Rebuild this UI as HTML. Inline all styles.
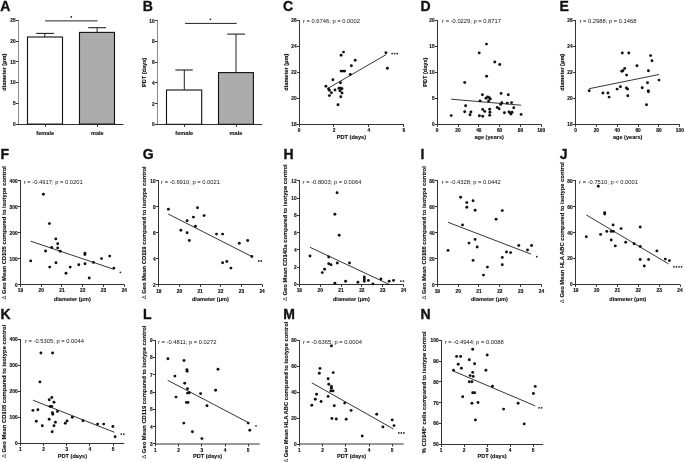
<!DOCTYPE html>
<html><head><meta charset="utf-8"><title>Figure</title>
<style>
html,body{margin:0;padding:0;background:#fff;}
svg{display:block;font-family:"Liberation Sans",sans-serif;will-change:transform;}
</style></head>
<body>
<svg width="685" height="462" viewBox="0 0 685 462">
<rect width="685" height="462" fill="#fff"/>
<g fill="#111">
<text x="0.30" y="10.90" font-size="14" font-weight="bold" text-anchor="start" stroke="#111" stroke-width="0.35">A</text>
<line x1="18.50" y1="20.00" x2="18.50" y2="125.00" stroke="#8a8a8a" stroke-width="1.0"/>
<line x1="16.00" y1="124.50" x2="18.50" y2="124.50" stroke="#333" stroke-width="1.0"/>
<text transform="translate(15.60,126.00) scale(1,1.15)" font-size="4.8" font-weight="bold" text-anchor="end" stroke="#111" stroke-width="0.15">0</text>
<line x1="16.00" y1="103.50" x2="18.50" y2="103.50" stroke="#333" stroke-width="1.0"/>
<text transform="translate(15.60,105.24) scale(1,1.15)" font-size="4.8" font-weight="bold" text-anchor="end" stroke="#111" stroke-width="0.15">5</text>
<line x1="16.00" y1="82.50" x2="18.50" y2="82.50" stroke="#333" stroke-width="1.0"/>
<text transform="translate(15.60,84.48) scale(1,1.15)" font-size="4.8" font-weight="bold" text-anchor="end" stroke="#111" stroke-width="0.15">10</text>
<line x1="16.00" y1="61.50" x2="18.50" y2="61.50" stroke="#333" stroke-width="1.0"/>
<text transform="translate(15.60,63.72) scale(1,1.15)" font-size="4.8" font-weight="bold" text-anchor="end" stroke="#111" stroke-width="0.15">15</text>
<line x1="16.00" y1="41.50" x2="18.50" y2="41.50" stroke="#333" stroke-width="1.0"/>
<text transform="translate(15.60,42.96) scale(1,1.15)" font-size="4.8" font-weight="bold" text-anchor="end" stroke="#111" stroke-width="0.15">20</text>
<line x1="16.00" y1="20.50" x2="18.50" y2="20.50" stroke="#333" stroke-width="1.0"/>
<text transform="translate(15.60,22.20) scale(1,1.15)" font-size="4.8" font-weight="bold" text-anchor="end" stroke="#111" stroke-width="0.15">25</text>
<text transform="translate(6.40,72.20) rotate(-90) scale(1.0,1.1)" font-size="5.6" font-weight="bold" text-anchor="middle" stroke="#111" stroke-width="0.12">diameter (μm)</text>
<line x1="18.00" y1="124.50" x2="123.50" y2="124.50" stroke="#333" stroke-width="1.0"/>
<line x1="45.50" y1="124.50" x2="45.50" y2="126.90" stroke="#333" stroke-width="1.0"/>
<line x1="97.50" y1="124.50" x2="97.50" y2="126.90" stroke="#333" stroke-width="1.0"/>
<text transform="translate(45.20,134.90) scale(1,1.1)" font-size="5.6" font-weight="bold" text-anchor="middle" stroke="#111" stroke-width="0.12">female</text>
<text transform="translate(97.30,134.90) scale(1,1.1)" font-size="5.6" font-weight="bold" text-anchor="middle" stroke="#111" stroke-width="0.12">male</text>
<rect x="27.5" y="37.0" width="35" height="87.1" fill="#fff" stroke="#111" stroke-width="1.1"/>
<rect x="79.5" y="32.4" width="35" height="91.7" fill="#acacac" stroke="#111" stroke-width="1.1"/>
<line x1="44.80" y1="33.40" x2="44.80" y2="37.00" stroke="#222" stroke-width="1"/>
<line x1="36.20" y1="33.40" x2="53.90" y2="33.40" stroke="#222" stroke-width="1.1"/>
<line x1="97.10" y1="27.70" x2="97.10" y2="32.40" stroke="#222" stroke-width="1"/>
<line x1="88.20" y1="27.70" x2="106.00" y2="27.70" stroke="#222" stroke-width="1.1"/>
<line x1="45.10" y1="20.90" x2="97.50" y2="20.90" stroke="#222" stroke-width="1"/>
<circle cx="71.30" cy="16.90" r="0.9" fill="#222"/>
<text x="142.70" y="10.90" font-size="14" font-weight="bold" text-anchor="start" stroke="#111" stroke-width="0.35">B</text>
<line x1="157.50" y1="20.00" x2="157.50" y2="125.00" stroke="#8a8a8a" stroke-width="1.0"/>
<line x1="155.00" y1="124.50" x2="157.50" y2="124.50" stroke="#333" stroke-width="1.0"/>
<text transform="translate(154.60,126.20) scale(1,1.15)" font-size="4.8" font-weight="bold" text-anchor="end" stroke="#111" stroke-width="0.15">0</text>
<line x1="155.00" y1="103.50" x2="157.50" y2="103.50" stroke="#333" stroke-width="1.0"/>
<text transform="translate(154.60,105.50) scale(1,1.15)" font-size="4.8" font-weight="bold" text-anchor="end" stroke="#111" stroke-width="0.15">2</text>
<line x1="155.00" y1="82.50" x2="157.50" y2="82.50" stroke="#333" stroke-width="1.0"/>
<text transform="translate(154.60,84.80) scale(1,1.15)" font-size="4.8" font-weight="bold" text-anchor="end" stroke="#111" stroke-width="0.15">4</text>
<line x1="155.00" y1="62.50" x2="157.50" y2="62.50" stroke="#333" stroke-width="1.0"/>
<text transform="translate(154.60,64.10) scale(1,1.15)" font-size="4.8" font-weight="bold" text-anchor="end" stroke="#111" stroke-width="0.15">6</text>
<line x1="155.00" y1="41.50" x2="157.50" y2="41.50" stroke="#333" stroke-width="1.0"/>
<text transform="translate(154.60,43.40) scale(1,1.15)" font-size="4.8" font-weight="bold" text-anchor="end" stroke="#111" stroke-width="0.15">8</text>
<line x1="155.00" y1="20.50" x2="157.50" y2="20.50" stroke="#333" stroke-width="1.0"/>
<text transform="translate(154.60,22.70) scale(1,1.15)" font-size="4.8" font-weight="bold" text-anchor="end" stroke="#111" stroke-width="0.15">10</text>
<text transform="translate(146.30,72.50) rotate(-90) scale(1.0,1.1)" font-size="5.6" font-weight="bold" text-anchor="middle" stroke="#111" stroke-width="0.12">PDT (days)</text>
<line x1="157.00" y1="124.50" x2="262.30" y2="124.50" stroke="#333" stroke-width="1.0"/>
<line x1="184.50" y1="124.50" x2="184.50" y2="126.90" stroke="#333" stroke-width="1.0"/>
<line x1="236.50" y1="124.50" x2="236.50" y2="126.90" stroke="#333" stroke-width="1.0"/>
<text transform="translate(184.20,135.00) scale(1,1.1)" font-size="5.6" font-weight="bold" text-anchor="middle" stroke="#111" stroke-width="0.12">female</text>
<text transform="translate(236.00,135.00) scale(1,1.1)" font-size="5.6" font-weight="bold" text-anchor="middle" stroke="#111" stroke-width="0.12">male</text>
<rect x="166.5" y="90.0" width="35.2" height="34.3" fill="#fff" stroke="#111" stroke-width="1.1"/>
<rect x="218.5" y="72.6" width="34.9" height="51.7" fill="#acacac" stroke="#111" stroke-width="1.1"/>
<line x1="184.30" y1="70.00" x2="184.30" y2="90.00" stroke="#222" stroke-width="1"/>
<line x1="175.30" y1="70.00" x2="192.80" y2="70.00" stroke="#222" stroke-width="1.1"/>
<line x1="236.00" y1="34.10" x2="236.00" y2="72.60" stroke="#222" stroke-width="1"/>
<line x1="227.20" y1="34.10" x2="245.00" y2="34.10" stroke="#222" stroke-width="1.1"/>
<line x1="185.00" y1="23.40" x2="236.70" y2="23.40" stroke="#222" stroke-width="1"/>
<circle cx="210.40" cy="19.30" r="0.9" fill="#222"/>
<text x="283.00" y="10.90" font-size="14" font-weight="bold" text-anchor="start" stroke="#111" stroke-width="0.35">C</text>
<line x1="299.50" y1="20.00" x2="299.50" y2="125.00" stroke="#333" stroke-width="1.0"/>
<line x1="297.00" y1="124.50" x2="299.50" y2="124.50" stroke="#333" stroke-width="1.0"/>
<text transform="translate(296.60,126.10) scale(1,1.15)" font-size="4.8" font-weight="bold" text-anchor="end" stroke="#111" stroke-width="0.15">18</text>
<line x1="297.00" y1="98.50" x2="299.50" y2="98.50" stroke="#333" stroke-width="1.0"/>
<text transform="translate(296.60,100.10) scale(1,1.15)" font-size="4.8" font-weight="bold" text-anchor="end" stroke="#111" stroke-width="0.15">20</text>
<line x1="297.00" y1="72.50" x2="299.50" y2="72.50" stroke="#333" stroke-width="1.0"/>
<text transform="translate(296.60,74.10) scale(1,1.15)" font-size="4.8" font-weight="bold" text-anchor="end" stroke="#111" stroke-width="0.15">22</text>
<line x1="297.00" y1="46.50" x2="299.50" y2="46.50" stroke="#333" stroke-width="1.0"/>
<text transform="translate(296.60,48.10) scale(1,1.15)" font-size="4.8" font-weight="bold" text-anchor="end" stroke="#111" stroke-width="0.15">24</text>
<line x1="297.00" y1="20.50" x2="299.50" y2="20.50" stroke="#333" stroke-width="1.0"/>
<text transform="translate(296.60,22.10) scale(1,1.15)" font-size="4.8" font-weight="bold" text-anchor="end" stroke="#111" stroke-width="0.15">26</text>
<text transform="translate(287.50,72.20) rotate(-90) scale(1.0,1.1)" font-size="5.6" font-weight="bold" text-anchor="middle" stroke="#111" stroke-width="0.12">diameter (μm)</text>
<line x1="299.00" y1="124.50" x2="403.90" y2="124.50" stroke="#333" stroke-width="1.0"/>
<line x1="299.50" y1="124.50" x2="299.50" y2="126.90" stroke="#333" stroke-width="1.0"/>
<text transform="translate(299.00,132.00) scale(1,1.15)" font-size="4.8" font-weight="bold" text-anchor="middle" stroke="#111" stroke-width="0.15">0</text>
<line x1="333.50" y1="124.50" x2="333.50" y2="126.90" stroke="#333" stroke-width="1.0"/>
<text transform="translate(333.97,132.00) scale(1,1.15)" font-size="4.8" font-weight="bold" text-anchor="middle" stroke="#111" stroke-width="0.15">2</text>
<line x1="368.50" y1="124.50" x2="368.50" y2="126.90" stroke="#333" stroke-width="1.0"/>
<text transform="translate(368.93,132.00) scale(1,1.15)" font-size="4.8" font-weight="bold" text-anchor="middle" stroke="#111" stroke-width="0.15">4</text>
<line x1="403.50" y1="124.50" x2="403.50" y2="126.90" stroke="#333" stroke-width="1.0"/>
<text transform="translate(403.90,132.00) scale(1,1.15)" font-size="4.8" font-weight="bold" text-anchor="middle" stroke="#111" stroke-width="0.15">6</text>
<text transform="translate(351.45,139.30) scale(1,1.1)" font-size="5.6" font-weight="bold" text-anchor="middle" stroke="#111" stroke-width="0.12">PDT (days)</text>
<text transform="translate(303.00,23.20) scale(1,1.04)" font-size="5.8" font-weight="normal" text-anchor="start">r = 0.6746; p = 0.0002</text>
<line x1="327.50" y1="88.60" x2="386.00" y2="54.70" stroke="#111" stroke-width="0.85"/>
<circle cx="343.50" cy="52.10" r="1.45"/>
<circle cx="341.10" cy="55.20" r="1.45"/>
<circle cx="355.20" cy="60.20" r="1.45"/>
<circle cx="351.40" cy="65.80" r="1.45"/>
<circle cx="341.10" cy="71.10" r="1.45"/>
<circle cx="343.00" cy="71.10" r="1.45"/>
<circle cx="344.60" cy="71.10" r="1.45"/>
<circle cx="350.30" cy="74.50" r="1.45"/>
<circle cx="332.90" cy="79.80" r="1.45"/>
<circle cx="340.50" cy="82.70" r="1.45"/>
<circle cx="325.90" cy="86.20" r="1.45"/>
<circle cx="328.60" cy="89.00" r="1.45"/>
<circle cx="329.40" cy="90.30" r="1.45"/>
<circle cx="335.00" cy="90.00" r="1.45"/>
<circle cx="339.00" cy="88.20" r="1.45"/>
<circle cx="340.80" cy="88.20" r="1.45"/>
<circle cx="342.00" cy="88.80" r="1.45"/>
<circle cx="340.00" cy="90.80" r="1.45"/>
<circle cx="331.40" cy="92.70" r="1.45"/>
<circle cx="342.00" cy="93.00" r="1.45"/>
<circle cx="329.40" cy="95.60" r="1.45"/>
<circle cx="340.80" cy="96.80" r="1.45"/>
<circle cx="338.00" cy="104.80" r="1.45"/>
<circle cx="385.90" cy="52.70" r="1.45"/>
<circle cx="387.40" cy="68.30" r="1.45"/>
<circle cx="392.10" cy="53.60" r="0.9" fill="#222"/>
<circle cx="394.65" cy="53.60" r="0.9" fill="#222"/>
<circle cx="397.20" cy="53.60" r="0.9" fill="#222"/>
<text x="420.40" y="10.90" font-size="14" font-weight="bold" text-anchor="start" stroke="#111" stroke-width="0.35">D</text>
<line x1="437.50" y1="20.00" x2="437.50" y2="125.00" stroke="#333" stroke-width="1.0"/>
<line x1="435.00" y1="124.50" x2="437.50" y2="124.50" stroke="#333" stroke-width="1.0"/>
<text transform="translate(434.60,125.90) scale(1,1.15)" font-size="4.8" font-weight="bold" text-anchor="end" stroke="#111" stroke-width="0.15">0</text>
<line x1="435.00" y1="98.50" x2="437.50" y2="98.50" stroke="#333" stroke-width="1.0"/>
<text transform="translate(434.60,99.98) scale(1,1.15)" font-size="4.8" font-weight="bold" text-anchor="end" stroke="#111" stroke-width="0.15">5</text>
<line x1="435.00" y1="72.50" x2="437.50" y2="72.50" stroke="#333" stroke-width="1.0"/>
<text transform="translate(434.60,74.05) scale(1,1.15)" font-size="4.8" font-weight="bold" text-anchor="end" stroke="#111" stroke-width="0.15">10</text>
<line x1="435.00" y1="46.50" x2="437.50" y2="46.50" stroke="#333" stroke-width="1.0"/>
<text transform="translate(434.60,48.12) scale(1,1.15)" font-size="4.8" font-weight="bold" text-anchor="end" stroke="#111" stroke-width="0.15">15</text>
<line x1="435.00" y1="20.50" x2="437.50" y2="20.50" stroke="#333" stroke-width="1.0"/>
<text transform="translate(434.60,22.20) scale(1,1.15)" font-size="4.8" font-weight="bold" text-anchor="end" stroke="#111" stroke-width="0.15">20</text>
<text transform="translate(426.50,72.15) rotate(-90) scale(1.0,1.1)" font-size="5.6" font-weight="bold" text-anchor="middle" stroke="#111" stroke-width="0.12">PDT (days)</text>
<line x1="437.00" y1="124.50" x2="541.20" y2="124.50" stroke="#333" stroke-width="1.0"/>
<line x1="437.50" y1="124.50" x2="437.50" y2="126.90" stroke="#333" stroke-width="1.0"/>
<text transform="translate(437.20,131.80) scale(1,1.15)" font-size="4.8" font-weight="bold" text-anchor="middle" stroke="#111" stroke-width="0.15">0</text>
<line x1="458.50" y1="124.50" x2="458.50" y2="126.90" stroke="#333" stroke-width="1.0"/>
<text transform="translate(458.00,131.80) scale(1,1.15)" font-size="4.8" font-weight="bold" text-anchor="middle" stroke="#111" stroke-width="0.15">20</text>
<line x1="478.50" y1="124.50" x2="478.50" y2="126.90" stroke="#333" stroke-width="1.0"/>
<text transform="translate(478.80,131.80) scale(1,1.15)" font-size="4.8" font-weight="bold" text-anchor="middle" stroke="#111" stroke-width="0.15">40</text>
<line x1="499.50" y1="124.50" x2="499.50" y2="126.90" stroke="#333" stroke-width="1.0"/>
<text transform="translate(499.60,131.80) scale(1,1.15)" font-size="4.8" font-weight="bold" text-anchor="middle" stroke="#111" stroke-width="0.15">60</text>
<line x1="520.50" y1="124.50" x2="520.50" y2="126.90" stroke="#333" stroke-width="1.0"/>
<text transform="translate(520.40,131.80) scale(1,1.15)" font-size="4.8" font-weight="bold" text-anchor="middle" stroke="#111" stroke-width="0.15">80</text>
<line x1="541.50" y1="124.50" x2="541.50" y2="126.90" stroke="#333" stroke-width="1.0"/>
<text transform="translate(541.20,131.80) scale(1,1.15)" font-size="4.8" font-weight="bold" text-anchor="middle" stroke="#111" stroke-width="0.15">100</text>
<text transform="translate(489.20,139.30) scale(1,1.1)" font-size="5.6" font-weight="bold" text-anchor="middle" stroke="#111" stroke-width="0.12">age (years)</text>
<text transform="translate(442.10,23.30) scale(1,1.04)" font-size="5.8" font-weight="normal" text-anchor="start">r = -0.0229; p = 0.8717</text>
<line x1="451.20" y1="99.20" x2="521.10" y2="105.20" stroke="#111" stroke-width="0.85"/>
<circle cx="486.50" cy="44.10" r="1.45"/>
<circle cx="479.20" cy="52.90" r="1.45"/>
<circle cx="494.80" cy="62.00" r="1.45"/>
<circle cx="499.70" cy="64.50" r="1.45"/>
<circle cx="486.60" cy="76.20" r="1.45"/>
<circle cx="464.70" cy="82.50" r="1.45"/>
<circle cx="482.40" cy="94.70" r="1.45"/>
<circle cx="501.10" cy="93.40" r="1.45"/>
<circle cx="508.30" cy="94.70" r="1.45"/>
<circle cx="486.00" cy="98.20" r="1.45"/>
<circle cx="487.60" cy="96.90" r="1.45"/>
<circle cx="489.30" cy="97.60" r="1.45"/>
<circle cx="490.30" cy="98.90" r="1.45"/>
<circle cx="488.60" cy="100.90" r="1.45"/>
<circle cx="480.10" cy="100.90" r="1.45"/>
<circle cx="501.80" cy="102.80" r="1.45"/>
<circle cx="500.70" cy="104.40" r="1.45"/>
<circle cx="507.30" cy="103.10" r="1.45"/>
<circle cx="511.60" cy="102.60" r="1.45"/>
<circle cx="465.60" cy="105.70" r="1.45"/>
<circle cx="497.20" cy="107.40" r="1.45"/>
<circle cx="499.10" cy="108.80" r="1.45"/>
<circle cx="513.80" cy="107.80" r="1.45"/>
<circle cx="482.70" cy="109.40" r="1.45"/>
<circle cx="484.70" cy="111.40" r="1.45"/>
<circle cx="489.70" cy="109.20" r="1.45"/>
<circle cx="489.90" cy="112.30" r="1.45"/>
<circle cx="464.70" cy="111.80" r="1.45"/>
<circle cx="470.90" cy="112.00" r="1.45"/>
<circle cx="470.00" cy="114.70" r="1.45"/>
<circle cx="504.40" cy="112.70" r="1.45"/>
<circle cx="509.00" cy="112.00" r="1.45"/>
<circle cx="510.30" cy="113.10" r="1.45"/>
<circle cx="512.00" cy="112.30" r="1.45"/>
<circle cx="511.00" cy="114.00" r="1.45"/>
<circle cx="451.20" cy="115.60" r="1.45"/>
<circle cx="479.40" cy="115.70" r="1.45"/>
<circle cx="482.70" cy="116.20" r="1.45"/>
<circle cx="489.70" cy="115.30" r="1.45"/>
<circle cx="521.10" cy="114.40" r="1.45"/>
<text x="559.40" y="10.90" font-size="14" font-weight="bold" text-anchor="start" stroke="#111" stroke-width="0.35">E</text>
<line x1="575.50" y1="20.00" x2="575.50" y2="125.00" stroke="#333" stroke-width="1.0"/>
<line x1="573.00" y1="124.50" x2="575.50" y2="124.50" stroke="#333" stroke-width="1.0"/>
<text transform="translate(572.60,126.00) scale(1,1.15)" font-size="4.8" font-weight="bold" text-anchor="end" stroke="#111" stroke-width="0.15">18</text>
<line x1="573.00" y1="98.50" x2="575.50" y2="98.50" stroke="#333" stroke-width="1.0"/>
<text transform="translate(572.60,100.08) scale(1,1.15)" font-size="4.8" font-weight="bold" text-anchor="end" stroke="#111" stroke-width="0.15">20</text>
<line x1="573.00" y1="72.50" x2="575.50" y2="72.50" stroke="#333" stroke-width="1.0"/>
<text transform="translate(572.60,74.15) scale(1,1.15)" font-size="4.8" font-weight="bold" text-anchor="end" stroke="#111" stroke-width="0.15">22</text>
<line x1="573.00" y1="46.50" x2="575.50" y2="46.50" stroke="#333" stroke-width="1.0"/>
<text transform="translate(572.60,48.23) scale(1,1.15)" font-size="4.8" font-weight="bold" text-anchor="end" stroke="#111" stroke-width="0.15">24</text>
<line x1="573.00" y1="20.50" x2="575.50" y2="20.50" stroke="#333" stroke-width="1.0"/>
<text transform="translate(572.60,22.30) scale(1,1.15)" font-size="4.8" font-weight="bold" text-anchor="end" stroke="#111" stroke-width="0.15">26</text>
<text transform="translate(563.70,72.25) rotate(-90) scale(1.0,1.1)" font-size="5.6" font-weight="bold" text-anchor="middle" stroke="#111" stroke-width="0.12">diameter (μm)</text>
<line x1="575.00" y1="124.50" x2="679.80" y2="124.50" stroke="#333" stroke-width="1.0"/>
<line x1="575.50" y1="124.50" x2="575.50" y2="126.90" stroke="#333" stroke-width="1.0"/>
<text transform="translate(575.50,131.90) scale(1,1.15)" font-size="4.8" font-weight="bold" text-anchor="middle" stroke="#111" stroke-width="0.15">0</text>
<line x1="596.50" y1="124.50" x2="596.50" y2="126.90" stroke="#333" stroke-width="1.0"/>
<text transform="translate(596.36,131.90) scale(1,1.15)" font-size="4.8" font-weight="bold" text-anchor="middle" stroke="#111" stroke-width="0.15">20</text>
<line x1="617.50" y1="124.50" x2="617.50" y2="126.90" stroke="#333" stroke-width="1.0"/>
<text transform="translate(617.22,131.90) scale(1,1.15)" font-size="4.8" font-weight="bold" text-anchor="middle" stroke="#111" stroke-width="0.15">40</text>
<line x1="638.50" y1="124.50" x2="638.50" y2="126.90" stroke="#333" stroke-width="1.0"/>
<text transform="translate(638.08,131.90) scale(1,1.15)" font-size="4.8" font-weight="bold" text-anchor="middle" stroke="#111" stroke-width="0.15">60</text>
<line x1="658.50" y1="124.50" x2="658.50" y2="126.90" stroke="#333" stroke-width="1.0"/>
<text transform="translate(658.94,131.90) scale(1,1.15)" font-size="4.8" font-weight="bold" text-anchor="middle" stroke="#111" stroke-width="0.15">80</text>
<line x1="679.50" y1="124.50" x2="679.50" y2="126.90" stroke="#333" stroke-width="1.0"/>
<text transform="translate(679.80,131.90) scale(1,1.15)" font-size="4.8" font-weight="bold" text-anchor="middle" stroke="#111" stroke-width="0.15">100</text>
<text transform="translate(627.65,139.30) scale(1,1.1)" font-size="5.6" font-weight="bold" text-anchor="middle" stroke="#111" stroke-width="0.12">age (years)</text>
<text transform="translate(579.50,23.40) scale(1,1.04)" font-size="5.8" font-weight="normal" text-anchor="start">r = 0.2988; p = 0.1468</text>
<line x1="589.20" y1="88.70" x2="659.00" y2="74.50" stroke="#111" stroke-width="0.85"/>
<circle cx="622.30" cy="53.00" r="1.45"/>
<circle cx="628.80" cy="53.00" r="1.45"/>
<circle cx="650.60" cy="55.60" r="1.45"/>
<circle cx="652.00" cy="60.70" r="1.45"/>
<circle cx="637.00" cy="65.70" r="1.45"/>
<circle cx="624.70" cy="68.40" r="1.45"/>
<circle cx="621.80" cy="71.20" r="1.45"/>
<circle cx="622.90" cy="70.80" r="1.45"/>
<circle cx="648.40" cy="70.80" r="1.45"/>
<circle cx="626.60" cy="75.10" r="1.45"/>
<circle cx="659.00" cy="80.10" r="1.45"/>
<circle cx="647.50" cy="82.70" r="1.45"/>
<circle cx="620.40" cy="86.80" r="1.45"/>
<circle cx="626.40" cy="87.90" r="1.45"/>
<circle cx="627.60" cy="89.10" r="1.45"/>
<circle cx="642.20" cy="87.70" r="1.45"/>
<circle cx="617.10" cy="89.10" r="1.45"/>
<circle cx="648.30" cy="90.70" r="1.45"/>
<circle cx="648.40" cy="91.80" r="1.45"/>
<circle cx="589.20" cy="90.70" r="1.45"/>
<circle cx="602.90" cy="93.00" r="1.45"/>
<circle cx="607.90" cy="93.00" r="1.45"/>
<circle cx="609.10" cy="97.10" r="1.45"/>
<circle cx="627.80" cy="95.70" r="1.45"/>
<circle cx="646.50" cy="104.70" r="1.45"/>
<text x="0.40" y="158.90" font-size="14" font-weight="bold" text-anchor="start" stroke="#111" stroke-width="0.35">F</text>
<line x1="20.50" y1="180.00" x2="20.50" y2="285.00" stroke="#333" stroke-width="1.0"/>
<line x1="18.00" y1="284.50" x2="20.50" y2="284.50" stroke="#333" stroke-width="1.0"/>
<text transform="translate(17.60,286.50) scale(1,1.15)" font-size="4.8" font-weight="bold" text-anchor="end" stroke="#111" stroke-width="0.15">0</text>
<line x1="18.00" y1="258.50" x2="20.50" y2="258.50" stroke="#333" stroke-width="1.0"/>
<text transform="translate(17.60,260.57) scale(1,1.15)" font-size="4.8" font-weight="bold" text-anchor="end" stroke="#111" stroke-width="0.15">100</text>
<line x1="18.00" y1="232.50" x2="20.50" y2="232.50" stroke="#333" stroke-width="1.0"/>
<text transform="translate(17.60,234.65) scale(1,1.15)" font-size="4.8" font-weight="bold" text-anchor="end" stroke="#111" stroke-width="0.15">200</text>
<line x1="18.00" y1="206.50" x2="20.50" y2="206.50" stroke="#333" stroke-width="1.0"/>
<text transform="translate(17.60,208.73) scale(1,1.15)" font-size="4.8" font-weight="bold" text-anchor="end" stroke="#111" stroke-width="0.15">300</text>
<line x1="18.00" y1="180.50" x2="20.50" y2="180.50" stroke="#333" stroke-width="1.0"/>
<text transform="translate(17.60,182.80) scale(1,1.15)" font-size="4.8" font-weight="bold" text-anchor="end" stroke="#111" stroke-width="0.15">400</text>
<text transform="translate(6.40,232.75) rotate(-90) scale(1.043,1.1)" font-size="5.6" font-weight="bold" text-anchor="middle" stroke="#111" stroke-width="0.12"><tspan font-weight="normal" stroke-width="0">Δ</tspan> Geo Mean CD105 compared to isotype control</text>
<line x1="20.00" y1="284.50" x2="124.30" y2="284.50" stroke="#333" stroke-width="1.0"/>
<line x1="20.50" y1="284.50" x2="20.50" y2="286.90" stroke="#333" stroke-width="1.0"/>
<text transform="translate(20.40,292.40) scale(1,1.15)" font-size="4.8" font-weight="bold" text-anchor="middle" stroke="#111" stroke-width="0.15">19</text>
<line x1="41.50" y1="284.50" x2="41.50" y2="286.90" stroke="#333" stroke-width="1.0"/>
<text transform="translate(41.18,292.40) scale(1,1.15)" font-size="4.8" font-weight="bold" text-anchor="middle" stroke="#111" stroke-width="0.15">20</text>
<line x1="61.50" y1="284.50" x2="61.50" y2="286.90" stroke="#333" stroke-width="1.0"/>
<text transform="translate(61.96,292.40) scale(1,1.15)" font-size="4.8" font-weight="bold" text-anchor="middle" stroke="#111" stroke-width="0.15">21</text>
<line x1="82.50" y1="284.50" x2="82.50" y2="286.90" stroke="#333" stroke-width="1.0"/>
<text transform="translate(82.74,292.40) scale(1,1.15)" font-size="4.8" font-weight="bold" text-anchor="middle" stroke="#111" stroke-width="0.15">22</text>
<line x1="103.50" y1="284.50" x2="103.50" y2="286.90" stroke="#333" stroke-width="1.0"/>
<text transform="translate(103.52,292.40) scale(1,1.15)" font-size="4.8" font-weight="bold" text-anchor="middle" stroke="#111" stroke-width="0.15">23</text>
<line x1="124.50" y1="284.50" x2="124.50" y2="286.90" stroke="#333" stroke-width="1.0"/>
<text transform="translate(124.30,292.40) scale(1,1.15)" font-size="4.8" font-weight="bold" text-anchor="middle" stroke="#111" stroke-width="0.15">24</text>
<text transform="translate(72.35,300.60) scale(1,1.1)" font-size="5.6" font-weight="bold" text-anchor="middle" stroke="#111" stroke-width="0.12">diameter (μm)</text>
<text transform="translate(23.80,183.90) scale(1,1.04)" font-size="5.8" font-weight="normal" text-anchor="start">r = -0.4917; p = 0.0201</text>
<line x1="30.70" y1="241.20" x2="113.90" y2="269.30" stroke="#111" stroke-width="0.85"/>
<circle cx="43.40" cy="194.20" r="1.45"/>
<circle cx="49.40" cy="223.60" r="1.45"/>
<circle cx="55.80" cy="238.90" r="1.45"/>
<circle cx="57.70" cy="243.70" r="1.45"/>
<circle cx="51.70" cy="247.50" r="1.45"/>
<circle cx="57.70" cy="247.90" r="1.45"/>
<circle cx="45.60" cy="251.00" r="1.45"/>
<circle cx="60.20" cy="251.30" r="1.45"/>
<circle cx="84.90" cy="253.10" r="1.45"/>
<circle cx="84.90" cy="254.50" r="1.45"/>
<circle cx="30.70" cy="260.90" r="1.45"/>
<circle cx="49.70" cy="267.10" r="1.45"/>
<circle cx="56.00" cy="262.80" r="1.45"/>
<circle cx="66.00" cy="273.20" r="1.45"/>
<circle cx="70.20" cy="267.10" r="1.45"/>
<circle cx="78.80" cy="264.70" r="1.45"/>
<circle cx="85.00" cy="263.70" r="1.45"/>
<circle cx="89.20" cy="278.00" r="1.45"/>
<circle cx="93.40" cy="262.40" r="1.45"/>
<circle cx="101.50" cy="258.60" r="1.45"/>
<circle cx="109.70" cy="256.10" r="1.45"/>
<circle cx="113.90" cy="268.10" r="1.45"/>
<circle cx="120.40" cy="272.30" r="0.9" fill="#222"/>
<text x="142.80" y="158.90" font-size="14" font-weight="bold" text-anchor="start" stroke="#111" stroke-width="0.35">G</text>
<line x1="158.50" y1="180.00" x2="158.50" y2="285.00" stroke="#333" stroke-width="1.0"/>
<line x1="156.00" y1="284.50" x2="158.50" y2="284.50" stroke="#333" stroke-width="1.0"/>
<text transform="translate(155.60,286.60) scale(1,1.15)" font-size="4.8" font-weight="bold" text-anchor="end" stroke="#111" stroke-width="0.15">2</text>
<line x1="156.00" y1="258.50" x2="158.50" y2="258.50" stroke="#333" stroke-width="1.0"/>
<text transform="translate(155.60,260.65) scale(1,1.15)" font-size="4.8" font-weight="bold" text-anchor="end" stroke="#111" stroke-width="0.15">4</text>
<line x1="156.00" y1="232.50" x2="158.50" y2="232.50" stroke="#333" stroke-width="1.0"/>
<text transform="translate(155.60,234.70) scale(1,1.15)" font-size="4.8" font-weight="bold" text-anchor="end" stroke="#111" stroke-width="0.15">6</text>
<line x1="156.00" y1="206.50" x2="158.50" y2="206.50" stroke="#333" stroke-width="1.0"/>
<text transform="translate(155.60,208.75) scale(1,1.15)" font-size="4.8" font-weight="bold" text-anchor="end" stroke="#111" stroke-width="0.15">8</text>
<line x1="156.00" y1="180.50" x2="158.50" y2="180.50" stroke="#333" stroke-width="1.0"/>
<text transform="translate(155.60,182.80) scale(1,1.15)" font-size="4.8" font-weight="bold" text-anchor="end" stroke="#111" stroke-width="0.15">10</text>
<text transform="translate(146.30,232.80) rotate(-90) scale(1.043,1.1)" font-size="5.6" font-weight="bold" text-anchor="middle" stroke="#111" stroke-width="0.12"><tspan font-weight="normal" stroke-width="0">Δ</tspan> Geo Mean CD119 compared to isotype control</text>
<line x1="158.00" y1="284.50" x2="262.10" y2="284.50" stroke="#333" stroke-width="1.0"/>
<line x1="158.50" y1="284.50" x2="158.50" y2="286.90" stroke="#333" stroke-width="1.0"/>
<text transform="translate(158.80,292.50) scale(1,1.15)" font-size="4.8" font-weight="bold" text-anchor="middle" stroke="#111" stroke-width="0.15">19</text>
<line x1="179.50" y1="284.50" x2="179.50" y2="286.90" stroke="#333" stroke-width="1.0"/>
<text transform="translate(179.46,292.50) scale(1,1.15)" font-size="4.8" font-weight="bold" text-anchor="middle" stroke="#111" stroke-width="0.15">20</text>
<line x1="200.50" y1="284.50" x2="200.50" y2="286.90" stroke="#333" stroke-width="1.0"/>
<text transform="translate(200.12,292.50) scale(1,1.15)" font-size="4.8" font-weight="bold" text-anchor="middle" stroke="#111" stroke-width="0.15">21</text>
<line x1="220.50" y1="284.50" x2="220.50" y2="286.90" stroke="#333" stroke-width="1.0"/>
<text transform="translate(220.78,292.50) scale(1,1.15)" font-size="4.8" font-weight="bold" text-anchor="middle" stroke="#111" stroke-width="0.15">22</text>
<line x1="241.50" y1="284.50" x2="241.50" y2="286.90" stroke="#333" stroke-width="1.0"/>
<text transform="translate(241.44,292.50) scale(1,1.15)" font-size="4.8" font-weight="bold" text-anchor="middle" stroke="#111" stroke-width="0.15">23</text>
<line x1="262.50" y1="284.50" x2="262.50" y2="286.90" stroke="#333" stroke-width="1.0"/>
<text transform="translate(262.10,292.50) scale(1,1.15)" font-size="4.8" font-weight="bold" text-anchor="middle" stroke="#111" stroke-width="0.15">24</text>
<text transform="translate(210.40,300.60) scale(1,1.1)" font-size="5.6" font-weight="bold" text-anchor="middle" stroke="#111" stroke-width="0.12">diameter (μm)</text>
<text transform="translate(161.10,183.90) scale(1,1.04)" font-size="5.8" font-weight="normal" text-anchor="start">r = -0.6910; p = 0.0021</text>
<line x1="168.20" y1="214.00" x2="251.80" y2="256.50" stroke="#111" stroke-width="0.85"/>
<circle cx="168.40" cy="209.30" r="1.45"/>
<circle cx="197.50" cy="207.80" r="1.45"/>
<circle cx="204.10" cy="215.60" r="1.45"/>
<circle cx="193.40" cy="217.10" r="1.45"/>
<circle cx="187.10" cy="220.80" r="1.45"/>
<circle cx="195.50" cy="226.30" r="1.45"/>
<circle cx="180.90" cy="230.20" r="1.45"/>
<circle cx="187.10" cy="232.70" r="1.45"/>
<circle cx="189.30" cy="240.50" r="1.45"/>
<circle cx="216.50" cy="234.10" r="1.45"/>
<circle cx="222.60" cy="234.10" r="1.45"/>
<circle cx="239.30" cy="243.20" r="1.45"/>
<circle cx="247.70" cy="240.50" r="1.45"/>
<circle cx="251.80" cy="256.50" r="1.45"/>
<circle cx="222.60" cy="262.70" r="1.45"/>
<circle cx="226.80" cy="261.50" r="1.45"/>
<circle cx="230.90" cy="268.10" r="1.45"/>
<circle cx="258.80" cy="261.00" r="0.9" fill="#222"/>
<circle cx="261.35" cy="261.00" r="0.9" fill="#222"/>
<text x="283.50" y="158.90" font-size="14" font-weight="bold" text-anchor="start" stroke="#111" stroke-width="0.35">H</text>
<line x1="299.50" y1="180.00" x2="299.50" y2="285.00" stroke="#333" stroke-width="1.0"/>
<line x1="297.00" y1="284.50" x2="299.50" y2="284.50" stroke="#333" stroke-width="1.0"/>
<text transform="translate(296.60,286.30) scale(1,1.15)" font-size="4.8" font-weight="bold" text-anchor="end" stroke="#111" stroke-width="0.15">0</text>
<line x1="297.00" y1="267.50" x2="299.50" y2="267.50" stroke="#333" stroke-width="1.0"/>
<text transform="translate(296.60,269.05) scale(1,1.15)" font-size="4.8" font-weight="bold" text-anchor="end" stroke="#111" stroke-width="0.15">2</text>
<line x1="297.00" y1="249.50" x2="299.50" y2="249.50" stroke="#333" stroke-width="1.0"/>
<text transform="translate(296.60,251.80) scale(1,1.15)" font-size="4.8" font-weight="bold" text-anchor="end" stroke="#111" stroke-width="0.15">4</text>
<line x1="297.00" y1="232.50" x2="299.50" y2="232.50" stroke="#333" stroke-width="1.0"/>
<text transform="translate(296.60,234.55) scale(1,1.15)" font-size="4.8" font-weight="bold" text-anchor="end" stroke="#111" stroke-width="0.15">6</text>
<line x1="297.00" y1="215.50" x2="299.50" y2="215.50" stroke="#333" stroke-width="1.0"/>
<text transform="translate(296.60,217.30) scale(1,1.15)" font-size="4.8" font-weight="bold" text-anchor="end" stroke="#111" stroke-width="0.15">8</text>
<line x1="297.00" y1="198.50" x2="299.50" y2="198.50" stroke="#333" stroke-width="1.0"/>
<text transform="translate(296.60,200.05) scale(1,1.15)" font-size="4.8" font-weight="bold" text-anchor="end" stroke="#111" stroke-width="0.15">10</text>
<line x1="297.00" y1="180.50" x2="299.50" y2="180.50" stroke="#333" stroke-width="1.0"/>
<text transform="translate(296.60,182.80) scale(1,1.15)" font-size="4.8" font-weight="bold" text-anchor="end" stroke="#111" stroke-width="0.15">12</text>
<text transform="translate(286.70,232.65) rotate(-90) scale(1.043,1.1)" font-size="5.6" font-weight="bold" text-anchor="middle" stroke="#111" stroke-width="0.12"><tspan font-weight="normal" stroke-width="0">Δ</tspan> Geo Mean CD140a compared to isotype control</text>
<line x1="299.00" y1="284.50" x2="403.60" y2="284.50" stroke="#333" stroke-width="1.0"/>
<line x1="299.50" y1="284.50" x2="299.50" y2="286.90" stroke="#333" stroke-width="1.0"/>
<text transform="translate(299.30,292.20) scale(1,1.15)" font-size="4.8" font-weight="bold" text-anchor="middle" stroke="#111" stroke-width="0.15">19</text>
<line x1="320.50" y1="284.50" x2="320.50" y2="286.90" stroke="#333" stroke-width="1.0"/>
<text transform="translate(320.16,292.20) scale(1,1.15)" font-size="4.8" font-weight="bold" text-anchor="middle" stroke="#111" stroke-width="0.15">20</text>
<line x1="341.50" y1="284.50" x2="341.50" y2="286.90" stroke="#333" stroke-width="1.0"/>
<text transform="translate(341.02,292.20) scale(1,1.15)" font-size="4.8" font-weight="bold" text-anchor="middle" stroke="#111" stroke-width="0.15">21</text>
<line x1="361.50" y1="284.50" x2="361.50" y2="286.90" stroke="#333" stroke-width="1.0"/>
<text transform="translate(361.88,292.20) scale(1,1.15)" font-size="4.8" font-weight="bold" text-anchor="middle" stroke="#111" stroke-width="0.15">22</text>
<line x1="382.50" y1="284.50" x2="382.50" y2="286.90" stroke="#333" stroke-width="1.0"/>
<text transform="translate(382.74,292.20) scale(1,1.15)" font-size="4.8" font-weight="bold" text-anchor="middle" stroke="#111" stroke-width="0.15">23</text>
<line x1="403.50" y1="284.50" x2="403.50" y2="286.90" stroke="#333" stroke-width="1.0"/>
<text transform="translate(403.60,292.20) scale(1,1.15)" font-size="4.8" font-weight="bold" text-anchor="middle" stroke="#111" stroke-width="0.15">24</text>
<text transform="translate(351.40,300.60) scale(1,1.1)" font-size="5.6" font-weight="bold" text-anchor="middle" stroke="#111" stroke-width="0.12">diameter (μm)</text>
<text transform="translate(302.60,183.90) scale(1,1.04)" font-size="5.8" font-weight="normal" text-anchor="start">r = -0.8003; p = 0.0064</text>
<line x1="310.00" y1="247.30" x2="389.20" y2="284.40" stroke="#111" stroke-width="0.85"/>
<circle cx="337.10" cy="192.70" r="1.45"/>
<circle cx="334.90" cy="214.20" r="1.45"/>
<circle cx="339.20" cy="235.20" r="1.45"/>
<circle cx="310.00" cy="256.00" r="1.45"/>
<circle cx="328.70" cy="257.00" r="1.45"/>
<circle cx="328.70" cy="263.80" r="1.45"/>
<circle cx="331.00" cy="264.80" r="1.45"/>
<circle cx="337.30" cy="263.00" r="1.45"/>
<circle cx="349.50" cy="263.00" r="1.45"/>
<circle cx="324.60" cy="269.30" r="1.45"/>
<circle cx="322.30" cy="272.60" r="1.45"/>
<circle cx="334.90" cy="283.30" r="1.45"/>
<circle cx="345.60" cy="281.30" r="1.45"/>
<circle cx="357.90" cy="282.30" r="1.45"/>
<circle cx="364.30" cy="277.00" r="1.45"/>
<circle cx="364.30" cy="279.00" r="1.45"/>
<circle cx="364.30" cy="281.30" r="1.45"/>
<circle cx="368.40" cy="280.40" r="1.45"/>
<circle cx="372.90" cy="283.90" r="1.45"/>
<circle cx="380.90" cy="279.00" r="1.45"/>
<circle cx="389.20" cy="281.30" r="1.45"/>
<circle cx="393.50" cy="280.40" r="1.45"/>
<circle cx="400.90" cy="281.10" r="0.9" fill="#222"/>
<circle cx="403.45" cy="281.10" r="0.9" fill="#222"/>
<text x="420.50" y="158.90" font-size="14" font-weight="bold" text-anchor="start" stroke="#111" stroke-width="0.35">I</text>
<line x1="437.50" y1="180.00" x2="437.50" y2="285.00" stroke="#333" stroke-width="1.0"/>
<line x1="435.00" y1="284.50" x2="437.50" y2="284.50" stroke="#333" stroke-width="1.0"/>
<text transform="translate(434.60,286.80) scale(1,1.15)" font-size="4.8" font-weight="bold" text-anchor="end" stroke="#111" stroke-width="0.15">0</text>
<line x1="435.00" y1="258.50" x2="437.50" y2="258.50" stroke="#333" stroke-width="1.0"/>
<text transform="translate(434.60,260.80) scale(1,1.15)" font-size="4.8" font-weight="bold" text-anchor="end" stroke="#111" stroke-width="0.15">20</text>
<line x1="435.00" y1="232.50" x2="437.50" y2="232.50" stroke="#333" stroke-width="1.0"/>
<text transform="translate(434.60,234.80) scale(1,1.15)" font-size="4.8" font-weight="bold" text-anchor="end" stroke="#111" stroke-width="0.15">40</text>
<line x1="435.00" y1="206.50" x2="437.50" y2="206.50" stroke="#333" stroke-width="1.0"/>
<text transform="translate(434.60,208.80) scale(1,1.15)" font-size="4.8" font-weight="bold" text-anchor="end" stroke="#111" stroke-width="0.15">60</text>
<line x1="435.00" y1="180.50" x2="437.50" y2="180.50" stroke="#333" stroke-width="1.0"/>
<text transform="translate(434.60,182.80) scale(1,1.15)" font-size="4.8" font-weight="bold" text-anchor="end" stroke="#111" stroke-width="0.15">80</text>
<text transform="translate(426.20,232.90) rotate(-90) scale(1.043,1.1)" font-size="5.6" font-weight="bold" text-anchor="middle" stroke="#111" stroke-width="0.12"><tspan font-weight="normal" stroke-width="0">Δ</tspan> Geo Mean CD166 compared to isotype control</text>
<line x1="437.00" y1="284.50" x2="541.50" y2="284.50" stroke="#333" stroke-width="1.0"/>
<line x1="437.50" y1="284.50" x2="437.50" y2="286.90" stroke="#333" stroke-width="1.0"/>
<text transform="translate(437.30,292.70) scale(1,1.15)" font-size="4.8" font-weight="bold" text-anchor="middle" stroke="#111" stroke-width="0.15">19</text>
<line x1="458.50" y1="284.50" x2="458.50" y2="286.90" stroke="#333" stroke-width="1.0"/>
<text transform="translate(458.14,292.70) scale(1,1.15)" font-size="4.8" font-weight="bold" text-anchor="middle" stroke="#111" stroke-width="0.15">20</text>
<line x1="478.50" y1="284.50" x2="478.50" y2="286.90" stroke="#333" stroke-width="1.0"/>
<text transform="translate(478.98,292.70) scale(1,1.15)" font-size="4.8" font-weight="bold" text-anchor="middle" stroke="#111" stroke-width="0.15">21</text>
<line x1="499.50" y1="284.50" x2="499.50" y2="286.90" stroke="#333" stroke-width="1.0"/>
<text transform="translate(499.82,292.70) scale(1,1.15)" font-size="4.8" font-weight="bold" text-anchor="middle" stroke="#111" stroke-width="0.15">22</text>
<line x1="520.50" y1="284.50" x2="520.50" y2="286.90" stroke="#333" stroke-width="1.0"/>
<text transform="translate(520.66,292.70) scale(1,1.15)" font-size="4.8" font-weight="bold" text-anchor="middle" stroke="#111" stroke-width="0.15">23</text>
<line x1="541.50" y1="284.50" x2="541.50" y2="286.90" stroke="#333" stroke-width="1.0"/>
<text transform="translate(541.50,292.70) scale(1,1.15)" font-size="4.8" font-weight="bold" text-anchor="middle" stroke="#111" stroke-width="0.15">24</text>
<text transform="translate(489.40,300.60) scale(1,1.1)" font-size="5.6" font-weight="bold" text-anchor="middle" stroke="#111" stroke-width="0.12">diameter (μm)</text>
<text transform="translate(441.80,183.90) scale(1,1.04)" font-size="5.8" font-weight="normal" text-anchor="start">r = -0.4328; p = 0.0442</text>
<line x1="448.00" y1="222.30" x2="530.90" y2="254.10" stroke="#111" stroke-width="0.85"/>
<circle cx="460.60" cy="197.20" r="1.45"/>
<circle cx="466.80" cy="202.60" r="1.45"/>
<circle cx="466.80" cy="207.30" r="1.45"/>
<circle cx="473.10" cy="200.80" r="1.45"/>
<circle cx="475.10" cy="210.20" r="1.45"/>
<circle cx="502.30" cy="210.60" r="1.45"/>
<circle cx="496.10" cy="219.30" r="1.45"/>
<circle cx="462.50" cy="224.90" r="1.45"/>
<circle cx="475.10" cy="239.40" r="1.45"/>
<circle cx="469.00" cy="243.10" r="1.45"/>
<circle cx="477.20" cy="247.00" r="1.45"/>
<circle cx="448.00" cy="250.40" r="1.45"/>
<circle cx="473.10" cy="260.40" r="1.45"/>
<circle cx="487.40" cy="267.10" r="1.45"/>
<circle cx="483.50" cy="275.10" r="1.45"/>
<circle cx="502.30" cy="257.40" r="1.45"/>
<circle cx="502.30" cy="264.70" r="1.45"/>
<circle cx="506.50" cy="252.00" r="1.45"/>
<circle cx="510.60" cy="252.60" r="1.45"/>
<circle cx="518.80" cy="245.50" r="1.45"/>
<circle cx="527.50" cy="250.00" r="1.45"/>
<circle cx="531.60" cy="245.50" r="1.45"/>
<circle cx="536.80" cy="256.70" r="0.9" fill="#222"/>
<text x="559.70" y="158.90" font-size="14" font-weight="bold" text-anchor="start" stroke="#111" stroke-width="0.35">J</text>
<line x1="575.50" y1="180.00" x2="575.50" y2="285.00" stroke="#333" stroke-width="1.0"/>
<line x1="573.00" y1="284.50" x2="575.50" y2="284.50" stroke="#333" stroke-width="1.0"/>
<text transform="translate(572.60,286.30) scale(1,1.15)" font-size="4.8" font-weight="bold" text-anchor="end" stroke="#111" stroke-width="0.15">0</text>
<line x1="573.00" y1="258.50" x2="575.50" y2="258.50" stroke="#333" stroke-width="1.0"/>
<text transform="translate(572.60,260.42) scale(1,1.15)" font-size="4.8" font-weight="bold" text-anchor="end" stroke="#111" stroke-width="0.15">20</text>
<line x1="573.00" y1="232.50" x2="575.50" y2="232.50" stroke="#333" stroke-width="1.0"/>
<text transform="translate(572.60,234.55) scale(1,1.15)" font-size="4.8" font-weight="bold" text-anchor="end" stroke="#111" stroke-width="0.15">40</text>
<line x1="573.00" y1="206.50" x2="575.50" y2="206.50" stroke="#333" stroke-width="1.0"/>
<text transform="translate(572.60,208.68) scale(1,1.15)" font-size="4.8" font-weight="bold" text-anchor="end" stroke="#111" stroke-width="0.15">60</text>
<line x1="573.00" y1="180.50" x2="575.50" y2="180.50" stroke="#333" stroke-width="1.0"/>
<text transform="translate(572.60,182.80) scale(1,1.15)" font-size="4.8" font-weight="bold" text-anchor="end" stroke="#111" stroke-width="0.15">80</text>
<text transform="translate(563.90,232.65) rotate(-90) scale(1.043,1.1)" font-size="5.6" font-weight="bold" text-anchor="middle" stroke="#111" stroke-width="0.12"><tspan font-weight="normal" stroke-width="0">Δ</tspan> Geo Mean HLA ABC compared to isotype control</text>
<line x1="575.00" y1="284.50" x2="680.00" y2="284.50" stroke="#333" stroke-width="1.0"/>
<line x1="575.50" y1="284.50" x2="575.50" y2="286.90" stroke="#333" stroke-width="1.0"/>
<text transform="translate(575.80,292.20) scale(1,1.15)" font-size="4.8" font-weight="bold" text-anchor="middle" stroke="#111" stroke-width="0.15">19</text>
<line x1="596.50" y1="284.50" x2="596.50" y2="286.90" stroke="#333" stroke-width="1.0"/>
<text transform="translate(596.64,292.20) scale(1,1.15)" font-size="4.8" font-weight="bold" text-anchor="middle" stroke="#111" stroke-width="0.15">20</text>
<line x1="617.50" y1="284.50" x2="617.50" y2="286.90" stroke="#333" stroke-width="1.0"/>
<text transform="translate(617.48,292.20) scale(1,1.15)" font-size="4.8" font-weight="bold" text-anchor="middle" stroke="#111" stroke-width="0.15">21</text>
<line x1="638.50" y1="284.50" x2="638.50" y2="286.90" stroke="#333" stroke-width="1.0"/>
<text transform="translate(638.32,292.20) scale(1,1.15)" font-size="4.8" font-weight="bold" text-anchor="middle" stroke="#111" stroke-width="0.15">22</text>
<line x1="659.50" y1="284.50" x2="659.50" y2="286.90" stroke="#333" stroke-width="1.0"/>
<text transform="translate(659.16,292.20) scale(1,1.15)" font-size="4.8" font-weight="bold" text-anchor="middle" stroke="#111" stroke-width="0.15">23</text>
<line x1="680.50" y1="284.50" x2="680.50" y2="286.90" stroke="#333" stroke-width="1.0"/>
<text transform="translate(680.00,292.20) scale(1,1.15)" font-size="4.8" font-weight="bold" text-anchor="middle" stroke="#111" stroke-width="0.15">24</text>
<text transform="translate(627.75,300.60) scale(1,1.1)" font-size="5.6" font-weight="bold" text-anchor="middle" stroke="#111" stroke-width="0.12">diameter (μm)</text>
<text transform="translate(579.10,183.90) scale(1,1.04)" font-size="5.8" font-weight="normal" text-anchor="start">r = -0.7510; p &lt; 0.0001</text>
<line x1="586.30" y1="214.90" x2="668.50" y2="263.90" stroke="#111" stroke-width="0.85"/>
<circle cx="598.30" cy="186.20" r="1.45"/>
<circle cx="604.70" cy="212.80" r="1.45"/>
<circle cx="604.70" cy="214.10" r="1.45"/>
<circle cx="613.10" cy="224.90" r="1.45"/>
<circle cx="621.10" cy="228.60" r="1.45"/>
<circle cx="640.20" cy="227.00" r="1.45"/>
<circle cx="586.30" cy="236.80" r="1.45"/>
<circle cx="600.60" cy="234.40" r="1.45"/>
<circle cx="606.80" cy="231.40" r="1.45"/>
<circle cx="611.20" cy="231.40" r="1.45"/>
<circle cx="613.50" cy="231.40" r="1.45"/>
<circle cx="611.20" cy="240.00" r="1.45"/>
<circle cx="615.30" cy="245.90" r="1.45"/>
<circle cx="625.70" cy="242.20" r="1.45"/>
<circle cx="634.10" cy="243.70" r="1.45"/>
<circle cx="640.20" cy="246.50" r="1.45"/>
<circle cx="656.90" cy="250.90" r="1.45"/>
<circle cx="640.20" cy="259.50" r="1.45"/>
<circle cx="648.60" cy="259.50" r="1.45"/>
<circle cx="644.30" cy="266.00" r="1.45"/>
<circle cx="665.30" cy="259.10" r="1.45"/>
<circle cx="669.40" cy="260.60" r="1.45"/>
<circle cx="673.90" cy="266.80" r="0.9" fill="#222"/>
<circle cx="676.45" cy="266.80" r="0.9" fill="#222"/>
<circle cx="679.00" cy="266.80" r="0.9" fill="#222"/>
<circle cx="681.55" cy="266.80" r="0.9" fill="#222"/>
<text x="0.40" y="318.90" font-size="14" font-weight="bold" text-anchor="start" stroke="#111" stroke-width="0.35">K</text>
<line x1="20.50" y1="339.00" x2="20.50" y2="444.00" stroke="#333" stroke-width="1.0"/>
<line x1="18.00" y1="443.50" x2="20.50" y2="443.50" stroke="#333" stroke-width="1.0"/>
<text transform="translate(17.60,445.30) scale(1,1.15)" font-size="4.8" font-weight="bold" text-anchor="end" stroke="#111" stroke-width="0.15">0</text>
<line x1="18.00" y1="417.50" x2="20.50" y2="417.50" stroke="#333" stroke-width="1.0"/>
<text transform="translate(17.60,419.30) scale(1,1.15)" font-size="4.8" font-weight="bold" text-anchor="end" stroke="#111" stroke-width="0.15">100</text>
<line x1="18.00" y1="391.50" x2="20.50" y2="391.50" stroke="#333" stroke-width="1.0"/>
<text transform="translate(17.60,393.30) scale(1,1.15)" font-size="4.8" font-weight="bold" text-anchor="end" stroke="#111" stroke-width="0.15">200</text>
<line x1="18.00" y1="365.50" x2="20.50" y2="365.50" stroke="#333" stroke-width="1.0"/>
<text transform="translate(17.60,367.30) scale(1,1.15)" font-size="4.8" font-weight="bold" text-anchor="end" stroke="#111" stroke-width="0.15">300</text>
<line x1="18.00" y1="339.50" x2="20.50" y2="339.50" stroke="#333" stroke-width="1.0"/>
<text transform="translate(17.60,341.30) scale(1,1.15)" font-size="4.8" font-weight="bold" text-anchor="end" stroke="#111" stroke-width="0.15">400</text>
<text transform="translate(6.40,391.40) rotate(-90) scale(1.043,1.1)" font-size="5.6" font-weight="bold" text-anchor="middle" stroke="#111" stroke-width="0.12"><tspan font-weight="normal" stroke-width="0">Δ</tspan> Geo Mean CD105 compared to isotype control</text>
<line x1="20.00" y1="443.50" x2="124.40" y2="443.50" stroke="#333" stroke-width="1.0"/>
<line x1="20.50" y1="443.50" x2="20.50" y2="445.90" stroke="#333" stroke-width="1.0"/>
<text transform="translate(20.40,451.20) scale(1,1.15)" font-size="4.8" font-weight="bold" text-anchor="middle" stroke="#111" stroke-width="0.15">1</text>
<line x1="43.50" y1="443.50" x2="43.50" y2="445.90" stroke="#333" stroke-width="1.0"/>
<text transform="translate(43.57,451.20) scale(1,1.15)" font-size="4.8" font-weight="bold" text-anchor="middle" stroke="#111" stroke-width="0.15">2</text>
<line x1="66.50" y1="443.50" x2="66.50" y2="445.90" stroke="#333" stroke-width="1.0"/>
<text transform="translate(66.75,451.20) scale(1,1.15)" font-size="4.8" font-weight="bold" text-anchor="middle" stroke="#111" stroke-width="0.15">3</text>
<line x1="89.50" y1="443.50" x2="89.50" y2="445.90" stroke="#333" stroke-width="1.0"/>
<text transform="translate(89.92,451.20) scale(1,1.15)" font-size="4.8" font-weight="bold" text-anchor="middle" stroke="#111" stroke-width="0.15">4</text>
<line x1="113.50" y1="443.50" x2="113.50" y2="445.90" stroke="#333" stroke-width="1.0"/>
<text transform="translate(113.10,451.20) scale(1,1.15)" font-size="4.8" font-weight="bold" text-anchor="middle" stroke="#111" stroke-width="0.15">5</text>
<text transform="translate(72.40,458.20) scale(1,1.1)" font-size="5.6" font-weight="bold" text-anchor="middle" stroke="#111" stroke-width="0.12">PDT (days)</text>
<text transform="translate(25.00,343.00) scale(1,1.04)" font-size="5.8" font-weight="normal" text-anchor="start">r = -0.5305; p = 0.0044</text>
<line x1="32.90" y1="400.20" x2="114.50" y2="432.30" stroke="#111" stroke-width="0.85"/>
<circle cx="40.90" cy="353.00" r="1.45"/>
<circle cx="52.60" cy="353.00" r="1.45"/>
<circle cx="39.90" cy="381.90" r="1.45"/>
<circle cx="32.90" cy="410.40" r="1.45"/>
<circle cx="37.90" cy="409.80" r="1.45"/>
<circle cx="36.30" cy="421.30" r="1.45"/>
<circle cx="42.30" cy="425.70" r="1.45"/>
<circle cx="49.20" cy="399.80" r="1.45"/>
<circle cx="51.80" cy="397.50" r="1.45"/>
<circle cx="54.00" cy="402.20" r="1.45"/>
<circle cx="50.00" cy="406.40" r="1.45"/>
<circle cx="51.80" cy="406.40" r="1.45"/>
<circle cx="52.40" cy="412.80" r="1.45"/>
<circle cx="52.80" cy="414.20" r="1.45"/>
<circle cx="57.40" cy="411.40" r="1.45"/>
<circle cx="49.20" cy="419.30" r="1.45"/>
<circle cx="55.40" cy="422.30" r="1.45"/>
<circle cx="54.00" cy="425.70" r="1.45"/>
<circle cx="52.20" cy="431.70" r="1.45"/>
<circle cx="65.30" cy="423.30" r="1.45"/>
<circle cx="67.10" cy="420.90" r="1.45"/>
<circle cx="72.30" cy="417.20" r="1.45"/>
<circle cx="83.00" cy="420.70" r="1.45"/>
<circle cx="97.60" cy="424.10" r="1.45"/>
<circle cx="103.70" cy="424.10" r="1.45"/>
<circle cx="112.90" cy="426.50" r="1.45"/>
<circle cx="115.10" cy="436.70" r="1.45"/>
<circle cx="121.30" cy="434.10" r="0.9" fill="#222"/>
<circle cx="123.85" cy="434.10" r="0.9" fill="#222"/>
<text x="142.90" y="318.90" font-size="14" font-weight="bold" text-anchor="start" stroke="#111" stroke-width="0.35">L</text>
<line x1="155.50" y1="340.00" x2="155.50" y2="445.00" stroke="#333" stroke-width="1.0"/>
<line x1="153.00" y1="443.50" x2="155.50" y2="443.50" stroke="#333" stroke-width="1.0"/>
<text transform="translate(152.60,445.80) scale(1,1.15)" font-size="4.8" font-weight="bold" text-anchor="end" stroke="#111" stroke-width="0.15">3</text>
<line x1="153.00" y1="426.50" x2="155.50" y2="426.50" stroke="#333" stroke-width="1.0"/>
<text transform="translate(152.60,428.53) scale(1,1.15)" font-size="4.8" font-weight="bold" text-anchor="end" stroke="#111" stroke-width="0.15">4</text>
<line x1="153.00" y1="409.50" x2="155.50" y2="409.50" stroke="#333" stroke-width="1.0"/>
<text transform="translate(152.60,411.27) scale(1,1.15)" font-size="4.8" font-weight="bold" text-anchor="end" stroke="#111" stroke-width="0.15">5</text>
<line x1="153.00" y1="392.50" x2="155.50" y2="392.50" stroke="#333" stroke-width="1.0"/>
<text transform="translate(152.60,394.00) scale(1,1.15)" font-size="4.8" font-weight="bold" text-anchor="end" stroke="#111" stroke-width="0.15">6</text>
<line x1="153.00" y1="374.50" x2="155.50" y2="374.50" stroke="#333" stroke-width="1.0"/>
<text transform="translate(152.60,376.73) scale(1,1.15)" font-size="4.8" font-weight="bold" text-anchor="end" stroke="#111" stroke-width="0.15">7</text>
<line x1="153.00" y1="357.50" x2="155.50" y2="357.50" stroke="#333" stroke-width="1.0"/>
<text transform="translate(152.60,359.47) scale(1,1.15)" font-size="4.8" font-weight="bold" text-anchor="end" stroke="#111" stroke-width="0.15">8</text>
<line x1="153.00" y1="340.50" x2="155.50" y2="340.50" stroke="#333" stroke-width="1.0"/>
<text transform="translate(152.60,342.20) scale(1,1.15)" font-size="4.8" font-weight="bold" text-anchor="end" stroke="#111" stroke-width="0.15">9</text>
<text transform="translate(146.20,392.15) rotate(-90) scale(1.043,1.1)" font-size="5.6" font-weight="bold" text-anchor="middle" stroke="#111" stroke-width="0.12"><tspan font-weight="normal" stroke-width="0">Δ</tspan> Geo Mean CD119 compared to isotype control</text>
<line x1="155.00" y1="444.00" x2="259.70" y2="444.00" stroke="#333" stroke-width="1.0"/>
<line x1="155.50" y1="444.00" x2="155.50" y2="446.40" stroke="#333" stroke-width="1.0"/>
<text transform="translate(155.40,451.80) scale(1,1.15)" font-size="4.8" font-weight="bold" text-anchor="middle" stroke="#111" stroke-width="0.15">1</text>
<line x1="178.50" y1="444.00" x2="178.50" y2="446.40" stroke="#333" stroke-width="1.0"/>
<text transform="translate(178.60,451.80) scale(1,1.15)" font-size="4.8" font-weight="bold" text-anchor="middle" stroke="#111" stroke-width="0.15">2</text>
<line x1="201.50" y1="444.00" x2="201.50" y2="446.40" stroke="#333" stroke-width="1.0"/>
<text transform="translate(201.80,451.80) scale(1,1.15)" font-size="4.8" font-weight="bold" text-anchor="middle" stroke="#111" stroke-width="0.15">3</text>
<line x1="225.50" y1="444.00" x2="225.50" y2="446.40" stroke="#333" stroke-width="1.0"/>
<text transform="translate(225.00,451.80) scale(1,1.15)" font-size="4.8" font-weight="bold" text-anchor="middle" stroke="#111" stroke-width="0.15">4</text>
<line x1="248.50" y1="444.00" x2="248.50" y2="446.40" stroke="#333" stroke-width="1.0"/>
<text transform="translate(248.20,451.80) scale(1,1.15)" font-size="4.8" font-weight="bold" text-anchor="middle" stroke="#111" stroke-width="0.15">5</text>
<text transform="translate(207.55,458.20) scale(1,1.1)" font-size="5.6" font-weight="bold" text-anchor="middle" stroke="#111" stroke-width="0.12">PDT (days)</text>
<text transform="translate(158.00,343.90) scale(1,1.04)" font-size="5.8" font-weight="normal" text-anchor="start">r = -0.4811; p = 0.0272</text>
<line x1="167.70" y1="380.30" x2="248.20" y2="422.50" stroke="#111" stroke-width="0.85"/>
<circle cx="167.90" cy="358.80" r="1.45"/>
<circle cx="184.00" cy="360.50" r="1.45"/>
<circle cx="218.00" cy="369.30" r="1.45"/>
<circle cx="186.90" cy="369.60" r="1.45"/>
<circle cx="187.10" cy="371.30" r="1.45"/>
<circle cx="174.90" cy="376.10" r="1.45"/>
<circle cx="184.70" cy="383.20" r="1.45"/>
<circle cx="187.50" cy="388.70" r="1.45"/>
<circle cx="215.60" cy="390.20" r="1.45"/>
<circle cx="176.00" cy="397.10" r="1.45"/>
<circle cx="187.50" cy="393.10" r="1.45"/>
<circle cx="189.30" cy="392.70" r="1.45"/>
<circle cx="200.60" cy="393.60" r="1.45"/>
<circle cx="186.40" cy="402.40" r="1.45"/>
<circle cx="188.00" cy="402.40" r="1.45"/>
<circle cx="207.00" cy="405.70" r="1.45"/>
<circle cx="183.80" cy="423.10" r="1.45"/>
<circle cx="192.40" cy="431.70" r="1.45"/>
<circle cx="201.90" cy="438.60" r="1.45"/>
<circle cx="248.20" cy="423.10" r="1.45"/>
<circle cx="249.80" cy="430.20" r="1.45"/>
<circle cx="256.00" cy="425.80" r="0.9" fill="#222"/>
<text x="283.20" y="318.90" font-size="14" font-weight="bold" text-anchor="start" stroke="#111" stroke-width="0.35">M</text>
<line x1="299.50" y1="340.00" x2="299.50" y2="445.00" stroke="#333" stroke-width="1.0"/>
<line x1="297.00" y1="444.50" x2="299.50" y2="444.50" stroke="#333" stroke-width="1.0"/>
<text transform="translate(296.60,446.10) scale(1,1.15)" font-size="4.8" font-weight="bold" text-anchor="end" stroke="#111" stroke-width="0.15">0</text>
<line x1="297.00" y1="418.50" x2="299.50" y2="418.50" stroke="#333" stroke-width="1.0"/>
<text transform="translate(296.60,420.15) scale(1,1.15)" font-size="4.8" font-weight="bold" text-anchor="end" stroke="#111" stroke-width="0.15">20</text>
<line x1="297.00" y1="392.50" x2="299.50" y2="392.50" stroke="#333" stroke-width="1.0"/>
<text transform="translate(296.60,394.20) scale(1,1.15)" font-size="4.8" font-weight="bold" text-anchor="end" stroke="#111" stroke-width="0.15">40</text>
<line x1="297.00" y1="366.50" x2="299.50" y2="366.50" stroke="#333" stroke-width="1.0"/>
<text transform="translate(296.60,368.25) scale(1,1.15)" font-size="4.8" font-weight="bold" text-anchor="end" stroke="#111" stroke-width="0.15">60</text>
<line x1="297.00" y1="340.50" x2="299.50" y2="340.50" stroke="#333" stroke-width="1.0"/>
<text transform="translate(296.60,342.30) scale(1,1.15)" font-size="4.8" font-weight="bold" text-anchor="end" stroke="#111" stroke-width="0.15">80</text>
<text transform="translate(288.10,392.20) rotate(-90) scale(1.043,1.1)" font-size="5.6" font-weight="bold" text-anchor="middle" stroke="#111" stroke-width="0.12"><tspan font-weight="normal" stroke-width="0">Δ</tspan> Geo Mean HLA ABC compared to isotype control</text>
<line x1="299.00" y1="444.00" x2="403.70" y2="444.00" stroke="#333" stroke-width="1.0"/>
<line x1="299.50" y1="444.00" x2="299.50" y2="446.40" stroke="#333" stroke-width="1.0"/>
<text transform="translate(299.40,451.80) scale(1,1.15)" font-size="4.8" font-weight="bold" text-anchor="middle" stroke="#111" stroke-width="0.15">1</text>
<line x1="322.50" y1="444.00" x2="322.50" y2="446.40" stroke="#333" stroke-width="1.0"/>
<text transform="translate(322.60,451.80) scale(1,1.15)" font-size="4.8" font-weight="bold" text-anchor="middle" stroke="#111" stroke-width="0.15">2</text>
<line x1="345.50" y1="444.00" x2="345.50" y2="446.40" stroke="#333" stroke-width="1.0"/>
<text transform="translate(345.80,451.80) scale(1,1.15)" font-size="4.8" font-weight="bold" text-anchor="middle" stroke="#111" stroke-width="0.15">3</text>
<line x1="369.50" y1="444.00" x2="369.50" y2="446.40" stroke="#333" stroke-width="1.0"/>
<text transform="translate(369.00,451.80) scale(1,1.15)" font-size="4.8" font-weight="bold" text-anchor="middle" stroke="#111" stroke-width="0.15">4</text>
<line x1="392.50" y1="444.00" x2="392.50" y2="446.40" stroke="#333" stroke-width="1.0"/>
<text transform="translate(392.20,451.80) scale(1,1.15)" font-size="4.8" font-weight="bold" text-anchor="middle" stroke="#111" stroke-width="0.15">5</text>
<text transform="translate(351.55,458.20) scale(1,1.1)" font-size="5.6" font-weight="bold" text-anchor="middle" stroke="#111" stroke-width="0.12">PDT (days)</text>
<text transform="translate(303.00,344.00) scale(1,1.04)" font-size="5.8" font-weight="normal" text-anchor="start">r = -0.6365; p = 0.0004</text>
<line x1="311.80" y1="382.80" x2="393.30" y2="428.90" stroke="#111" stroke-width="0.85"/>
<circle cx="331.40" cy="345.90" r="1.45"/>
<circle cx="320.00" cy="368.40" r="1.45"/>
<circle cx="319.30" cy="373.30" r="1.45"/>
<circle cx="333.20" cy="372.60" r="1.45"/>
<circle cx="328.10" cy="378.80" r="1.45"/>
<circle cx="328.80" cy="384.30" r="1.45"/>
<circle cx="331.40" cy="386.50" r="1.45"/>
<circle cx="331.40" cy="388.30" r="1.45"/>
<circle cx="330.80" cy="390.90" r="1.45"/>
<circle cx="333.00" cy="390.90" r="1.45"/>
<circle cx="316.60" cy="394.20" r="1.45"/>
<circle cx="328.10" cy="396.40" r="1.45"/>
<circle cx="315.30" cy="399.30" r="1.45"/>
<circle cx="321.10" cy="401.50" r="1.45"/>
<circle cx="311.80" cy="405.30" r="1.45"/>
<circle cx="334.30" cy="405.70" r="1.45"/>
<circle cx="344.70" cy="403.10" r="1.45"/>
<circle cx="351.10" cy="410.40" r="1.45"/>
<circle cx="331.90" cy="418.50" r="1.45"/>
<circle cx="336.30" cy="419.00" r="1.45"/>
<circle cx="346.20" cy="419.20" r="1.45"/>
<circle cx="376.70" cy="414.30" r="1.45"/>
<circle cx="392.20" cy="419.90" r="1.45"/>
<circle cx="394.00" cy="425.60" r="1.45"/>
<circle cx="382.90" cy="426.90" r="1.45"/>
<circle cx="362.20" cy="436.00" r="1.45"/>
<circle cx="398.80" cy="432.90" r="0.9" fill="#222"/>
<circle cx="401.35" cy="432.90" r="0.9" fill="#222"/>
<circle cx="403.90" cy="432.90" r="0.9" fill="#222"/>
<text x="420.50" y="318.90" font-size="14" font-weight="bold" text-anchor="start" stroke="#111" stroke-width="0.35">N</text>
<line x1="441.50" y1="340.00" x2="441.50" y2="445.00" stroke="#333" stroke-width="1.0"/>
<line x1="439.00" y1="444.50" x2="441.50" y2="444.50" stroke="#333" stroke-width="1.0"/>
<text transform="translate(438.60,446.20) scale(1,1.15)" font-size="4.8" font-weight="bold" text-anchor="end" stroke="#111" stroke-width="0.15">50</text>
<line x1="439.00" y1="423.50" x2="441.50" y2="423.50" stroke="#333" stroke-width="1.0"/>
<text transform="translate(438.60,425.42) scale(1,1.15)" font-size="4.8" font-weight="bold" text-anchor="end" stroke="#111" stroke-width="0.15">60</text>
<line x1="439.00" y1="402.50" x2="441.50" y2="402.50" stroke="#333" stroke-width="1.0"/>
<text transform="translate(438.60,404.64) scale(1,1.15)" font-size="4.8" font-weight="bold" text-anchor="end" stroke="#111" stroke-width="0.15">70</text>
<line x1="439.00" y1="381.50" x2="441.50" y2="381.50" stroke="#333" stroke-width="1.0"/>
<text transform="translate(438.60,383.86) scale(1,1.15)" font-size="4.8" font-weight="bold" text-anchor="end" stroke="#111" stroke-width="0.15">80</text>
<line x1="439.00" y1="361.50" x2="441.50" y2="361.50" stroke="#333" stroke-width="1.0"/>
<text transform="translate(438.60,363.08) scale(1,1.15)" font-size="4.8" font-weight="bold" text-anchor="end" stroke="#111" stroke-width="0.15">90</text>
<line x1="439.00" y1="340.50" x2="441.50" y2="340.50" stroke="#333" stroke-width="1.0"/>
<text transform="translate(438.60,342.30) scale(1,1.15)" font-size="4.8" font-weight="bold" text-anchor="end" stroke="#111" stroke-width="0.15">100</text>
<text transform="translate(426.20,392.35) rotate(-90) scale(1.043,1.1)" font-size="5.6" font-weight="bold" text-anchor="middle" stroke="#111" stroke-width="0.12">% CD146<tspan font-size="3.6" dy="-2">+</tspan><tspan dy="2"> cells compared to isotype control</tspan></text>
<line x1="441.00" y1="444.50" x2="543.20" y2="444.50" stroke="#333" stroke-width="1.0"/>
<line x1="441.50" y1="444.50" x2="441.50" y2="446.90" stroke="#333" stroke-width="1.0"/>
<text transform="translate(441.00,452.10) scale(1,1.15)" font-size="4.8" font-weight="bold" text-anchor="middle" stroke="#111" stroke-width="0.15">1</text>
<line x1="464.50" y1="444.50" x2="464.50" y2="446.90" stroke="#333" stroke-width="1.0"/>
<text transform="translate(464.02,452.10) scale(1,1.15)" font-size="4.8" font-weight="bold" text-anchor="middle" stroke="#111" stroke-width="0.15">2</text>
<line x1="487.50" y1="444.50" x2="487.50" y2="446.90" stroke="#333" stroke-width="1.0"/>
<text transform="translate(487.05,452.10) scale(1,1.15)" font-size="4.8" font-weight="bold" text-anchor="middle" stroke="#111" stroke-width="0.15">3</text>
<line x1="510.50" y1="444.50" x2="510.50" y2="446.90" stroke="#333" stroke-width="1.0"/>
<text transform="translate(510.08,452.10) scale(1,1.15)" font-size="4.8" font-weight="bold" text-anchor="middle" stroke="#111" stroke-width="0.15">4</text>
<line x1="533.50" y1="444.50" x2="533.50" y2="446.90" stroke="#333" stroke-width="1.0"/>
<text transform="translate(533.10,452.10) scale(1,1.15)" font-size="4.8" font-weight="bold" text-anchor="middle" stroke="#111" stroke-width="0.15">5</text>
<text transform="translate(492.10,458.20) scale(1,1.1)" font-size="5.6" font-weight="bold" text-anchor="middle" stroke="#111" stroke-width="0.12">PDT (days)</text>
<text transform="translate(444.70,344.00) scale(1,1.04)" font-size="5.8" font-weight="normal" text-anchor="start">r = -0.4944; p = 0.0088</text>
<line x1="453.50" y1="371.10" x2="535.20" y2="405.90" stroke="#111" stroke-width="0.85"/>
<circle cx="472.70" cy="349.20" r="1.45"/>
<circle cx="456.60" cy="356.40" r="1.45"/>
<circle cx="460.60" cy="356.40" r="1.45"/>
<circle cx="487.20" cy="355.00" r="1.45"/>
<circle cx="469.30" cy="359.80" r="1.45"/>
<circle cx="458.20" cy="364.30" r="1.45"/>
<circle cx="474.60" cy="363.70" r="1.45"/>
<circle cx="461.40" cy="368.20" r="1.45"/>
<circle cx="453.50" cy="370.30" r="1.45"/>
<circle cx="485.90" cy="370.30" r="1.45"/>
<circle cx="472.70" cy="372.40" r="1.45"/>
<circle cx="470.10" cy="375.60" r="1.45"/>
<circle cx="473.20" cy="376.40" r="1.45"/>
<circle cx="469.30" cy="381.70" r="1.45"/>
<circle cx="471.90" cy="381.70" r="1.45"/>
<circle cx="492.50" cy="386.20" r="1.45"/>
<circle cx="535.20" cy="386.40" r="1.45"/>
<circle cx="533.40" cy="393.50" r="1.45"/>
<circle cx="462.70" cy="396.70" r="1.45"/>
<circle cx="472.70" cy="392.80" r="1.45"/>
<circle cx="474.60" cy="392.80" r="1.45"/>
<circle cx="471.90" cy="403.30" r="1.45"/>
<circle cx="478.00" cy="402.50" r="1.45"/>
<circle cx="518.10" cy="403.30" r="1.45"/>
<circle cx="503.60" cy="409.10" r="1.45"/>
<circle cx="475.40" cy="419.90" r="1.45"/>
<circle cx="524.20" cy="423.90" r="1.45"/>
<circle cx="539.10" cy="407.80" r="0.9" fill="#222"/>
<circle cx="541.65" cy="407.80" r="0.9" fill="#222"/>
</g>
</svg>
</body></html>
